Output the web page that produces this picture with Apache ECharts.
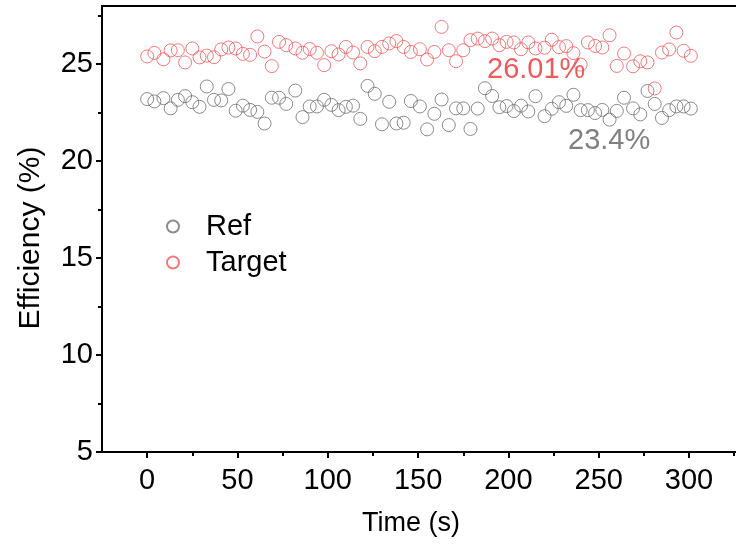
<!DOCTYPE html>
<html>
<head>
<meta charset="utf-8">
<script src="https://cdn.jsdelivr.net/npm/echarts@6/dist/echarts.min.js"></script>
<style>html,body{margin:0;padding:0;background:#fff}#c{width:736px;height:552px}</style>
</head>
<body>
<div id="c"></div>
<script>
// ---- data ----
var times = [0,4,9,13,17,21,25,29,33,37,41,45,49,53,57,61,65,69,73,77,82,86,90,94,98,102,106,110,114,118,122,126,130,134,138,142,146,151,155,159,163,167,171,175,179,183,187,191,195,199,203,207,211,215,220,224,228,232,236,240,244,248,252,256,260,264,269,273,277,281,285,289,293,297,301];
var refValues = [23.20,23.08,23.25,22.72,23.16,23.35,23.04,22.80,23.85,23.16,23.13,23.72,22.60,22.86,22.64,22.54,21.94,23.27,23.27,22.95,23.64,22.27,22.82,22.82,23.16,22.90,22.63,22.80,22.86,22.18,23.88,23.47,21.90,23.06,21.94,21.98,23.10,22.82,21.64,22.44,23.18,21.86,22.72,22.72,21.66,22.71,23.76,23.36,22.78,22.84,22.58,22.86,22.56,23.35,22.32,22.70,23.04,22.85,23.42,22.63,22.63,22.48,22.64,22.14,22.59,23.27,22.72,22.41,23.62,22.95,22.23,22.63,22.82,22.82,22.71];
var targetValues = [25.40,25.58,25.25,25.71,25.72,25.09,25.81,25.35,25.44,25.36,25.76,25.86,25.81,25.53,25.48,26.43,25.65,24.90,26.15,25.98,25.81,25.59,25.78,25.59,24.95,25.67,25.50,25.89,25.60,25.04,25.89,25.67,25.89,26.07,26.19,25.89,25.63,25.77,25.24,25.63,26.92,25.72,25.15,25.72,26.24,26.32,26.19,26.32,25.98,26.15,26.12,25.77,26.12,25.81,25.85,26.26,25.88,25.93,25.57,24.98,26.12,25.94,25.86,26.49,24.91,25.55,24.89,25.15,25.09,23.75,25.60,25.76,26.63,25.69,25.43];
var xTicks = [0,50,100,150,200,250,300];
var xMinorTicks = [25,75,125,175,225,275,325];
var yTicks = [5,10,15,20,25];
var yMinorTicks = [7.5,12.5,17.5,22.5,27.5];
var seriesNames = ['Ref','Target'];
var annotations = ['26.01%','23.4%'];

var FONT = 'Liberation Sans, Arial, sans-serif';
var RED = '#ee5a5c';
var GRAY = '#6e6e6e';

function pairs(xs, ys){ return xs.map(function(x,i){ return [x, ys[i]]; }); }

var chart = echarts.init(document.getElementById('c'), null, {renderer:'canvas'});
var axisLineStyle = {color:'#000', width:2};
var XMIN = -25, XMAX = 326;
chart.setOption({
  animation:false,
  backgroundColor:'#fff',
  grid:{left:102, top:6, right:0, height:446, containLabel:false},
  xAxis:[
    {type:'value', min:XMIN, max:XMAX, position:'bottom',
     axisLine:{show:true, onZero:false, lineStyle:axisLineStyle},
     axisTick:{show:true, inside:false, length:6, customValues:xTicks, lineStyle:{color:'#000', width:2}},
     axisLabel:{show:true, customValues:xTicks, fontSize:29, color:'#000', fontFamily:FONT, margin:14},
     splitLine:{show:false}},
    {type:'value', min:XMIN, max:XMAX, position:'bottom',
     axisLine:{show:false, onZero:false},
     axisTick:{show:true, inside:false, length:4, customValues:xMinorTicks, lineStyle:{color:'#000', width:2}},
     axisLabel:{show:false}, splitLine:{show:false}},
    {type:'value', min:XMIN, max:XMAX, position:'top',
     axisLine:{show:true, onZero:false, lineStyle:axisLineStyle},
     axisTick:{show:false}, axisLabel:{show:false}, splitLine:{show:false}}
  ],
  yAxis:[
    {type:'value', min:5, max:28, position:'left',
     axisLine:{show:true, onZero:false, lineStyle:axisLineStyle},
     axisTick:{show:true, inside:false, length:6, customValues:yTicks, lineStyle:{color:'#000', width:2}},
     axisLabel:{show:true, customValues:yTicks, fontSize:29, color:'#000', fontFamily:FONT, margin:9},
     splitLine:{show:false}},
    {type:'value', min:5, max:28, position:'left',
     axisLine:{show:false, onZero:false},
     axisTick:{show:true, inside:false, length:4, customValues:yMinorTicks, lineStyle:{color:'#000', width:2}},
     axisLabel:{show:false}, splitLine:{show:false}}
  ],
  legend:{
    orient:'vertical', left:161, top:207, itemGap:7,
    itemWidth:12, itemHeight:12, icon:'circle',
    textStyle:{fontSize:29, color:'#000', fontFamily:FONT, padding:[0,0,0,22]},
    data:seriesNames
  },
  series:[
    {name:seriesNames[0], type:'scatter', xAxisIndex:0, yAxisIndex:0, symbol:'circle', symbolSize:13,
     itemStyle:{color:'rgba(0,0,0,0)', borderColor:GRAY, borderWidth:1},
     data:pairs(times, refValues)},
    {name:seriesNames[1], type:'scatter', xAxisIndex:0, yAxisIndex:0, symbol:'circle', symbolSize:13,
     itemStyle:{color:'rgba(0,0,0,0)', borderColor:RED, borderWidth:1},
     data:pairs(times, targetValues)}
  ],
  graphic:[
    {type:'text', left:487, top:55, style:{text:annotations[0], fill:RED, fontSize:29, fontFamily:FONT}},
    {type:'text', left:568, top:126, style:{text:annotations[1], fill:'#808080', fontSize:29, fontFamily:FONT}},
    {type:'text', x:31, y:238, rotation:Math.PI/2, style:{text:'Efficiency (%)', fill:'#000', fontSize:30, fontFamily:FONT, align:'center', verticalAlign:'middle'}},
    {type:'text', x:411, y:524, style:{text:'Time (s)', fill:'#000', fontSize:27, fontFamily:FONT, align:'center', verticalAlign:'middle'}}
  ]
});
</script>
</body>
</html>
